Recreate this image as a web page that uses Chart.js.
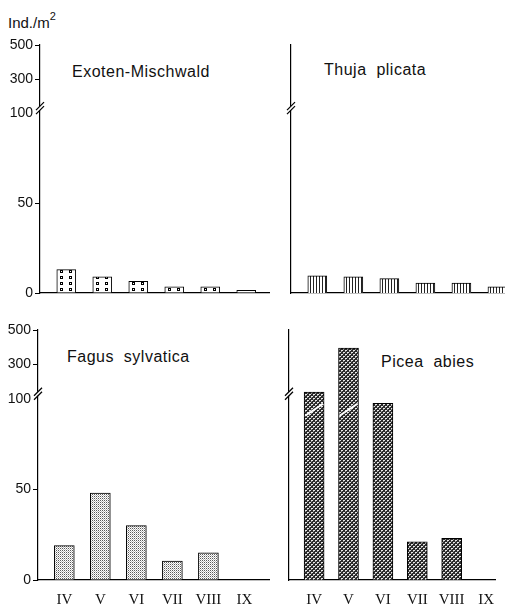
<!DOCTYPE html>
<html>
<head>
<meta charset="utf-8">
<script src="https://cdn.jsdelivr.net/npm/chart.js@4.4.1/dist/chart.umd.min.js"></script>
<style>
  html, body { margin: 0; padding: 0; background: #fff; }
  body { width: 505px; height: 606px; position: relative; overflow: hidden; }
  canvas { position: absolute; }
  .lbl { position: absolute; font-family: "Liberation Sans", Arial, sans-serif; color: #111; white-space: pre; }
  .title { font-size: 16px; line-height: 16px; letter-spacing: 0.5px; }
  .unit { font-size: 15px; line-height: 15px; }
  .unit sup { font-size: 11px; position: relative; top: -2px; }
</style>
</head>
<body>
<div class="lbl unit" style="left:8px; top:11px;">Ind./m<sup>2</sup></div>
<div class="lbl title" style="left:72px; top:64px;">Exoten-Mischwald</div>
<div class="lbl title" style="left:324px; top:62px;">Thuja  plicata</div>
<div class="lbl title" style="left:67px; top:349px;">Fagus  sylvatica</div>
<div class="lbl title" style="left:381px; top:354px;">Picea  abies</div>

<canvas id="tl" width="270" height="310" style="left:0; top:0;"></canvas>
<canvas id="tr" width="255" height="310" style="left:250px; top:0;"></canvas>
<canvas id="bl" width="270" height="306" style="left:0; top:300px;"></canvas>
<canvas id="br" width="255" height="306" style="left:250px; top:300px;"></canvas>

<script>
// Months of the sampling season (Roman numerals)
const months = ['IV', 'V', 'VI', 'VII', 'VIII', 'IX'];

// Individuals per m² for each stand
const exotenMischwald = [13, 9, 6.5, 3.5, 3.5, 1.5];
const thujaPlicata    = [9.5, 9, 8, 5.5, 5.5, 3.5];
const fagusSylvatica  = [19, 48, 30, 10.5, 15, null];
const piceaAbies      = [139, 395, 97.5, 21, 23, null];

// Y axis ticks (axis is broken above 100)
const yTicks = [0, 50, 100, 300, 500];
const BREAK_AT = 100;
const Y_TOP = 500;
const LOWER_SHARE = 0.725;   // share of the axis height used by 0..100

// Linear scale with a compressed upper segment above the break
class BrokenLinearScale extends Chart.LinearScale {
  static id = 'brokenLinear';
  static defaults = Chart.LinearScale.defaults;
  buildTicks() { return yTicks.map(v => ({ value: v })); }
  toDecimal(v) {
    if (v <= BREAK_AT) return (v / BREAK_AT) * LOWER_SHARE;
    return LOWER_SHARE + (v - BREAK_AT) / (Y_TOP - BREAK_AT) * (1 - LOWER_SHARE);
  }
  getPixelForValue(v) { return this.getPixelForDecimal(this.toDecimal(v)); }
  getValueForPixel(p) {
    const d = this.getDecimalForPixel(p);
    if (d <= LOWER_SHARE) return d / LOWER_SHARE * BREAK_AT;
    return BREAK_AT + (d - LOWER_SHARE) / (1 - LOWER_SHARE) * (Y_TOP - BREAK_AT);
  }
}
Chart.register(BrokenLinearScale);

// Fill patterns
function makePattern(w, h, paint) {
  const c = document.createElement('canvas');
  c.width = w; c.height = h;
  const g = c.getContext('2d');
  paint(g);
  return g.createPattern(c, 'repeat');
}

const dotPattern = makePattern(36, 6, g => {
  g.fillStyle = '#fff'; g.fillRect(0, 0, 36, 6);
  for (const cx of [25, 34]) {
    g.fillStyle = '#000'; g.fillRect(cx - 1, 0, 3, 3);
    g.fillStyle = '#fff'; g.fillRect(cx, 1, 1, 1);
  }
});
const stripePattern = makePattern(3, 1, g => {
  g.fillStyle = '#fff'; g.fillRect(0, 0, 3, 1);
  g.fillStyle = '#222'; g.fillRect(0, 0, 1, 1);
});
const stipplePattern = makePattern(2, 2, g => {
  g.fillStyle = '#fff'; g.fillRect(0, 0, 2, 2);
  g.fillStyle = '#5a5a5a'; g.fillRect(0, 0, 1, 1);
  g.fillStyle = '#bbb'; g.fillRect(1, 1, 1, 1);
});
const meshPattern = makePattern(4, 4, g => {
  g.fillStyle = '#2a2a2a'; g.fillRect(0, 0, 4, 4);
  g.fillStyle = '#e8e8e8';
  g.fillRect(1, 0, 2, 1);
  g.fillRect(3, 2, 1, 1); g.fillRect(0, 2, 1, 1);
  g.fillStyle = '#9a9a9a';
  g.fillRect(1, 1, 1, 1); g.fillRect(3, 3, 1, 1);
});

// Break marks on the y axis and through bars that pass the break
const breakPlugin = {
  id: 'axisBreak',
  afterDatasetsDraw(chart) {
    const { ctx } = chart;
    const y = chart.scales.y;
    const xAxis = y.left + y.width;
    const yb = y.getPixelForValue(BREAK_AT) - 5;
    ctx.save();
    ctx.strokeStyle = '#fff'; ctx.lineWidth = 3;
    ctx.beginPath(); ctx.moveTo(xAxis, yb - 2); ctx.lineTo(xAxis, yb + 2); ctx.stroke();
    ctx.strokeStyle = '#000'; ctx.lineWidth = 1.2;
    for (const d of [-2, 2]) {
      ctx.beginPath(); ctx.moveTo(xAxis - 4, yb + d + 4); ctx.lineTo(xAxis + 4, yb + d - 4); ctx.stroke();
    }
    // white cut through bars reaching above the break
    const meta = chart.getDatasetMeta(0);
    const yc = y.getPixelForValue(BREAK_AT) + 11;
    meta.data.forEach((bar, i) => {
      const v = meta._parsed[i] && meta._parsed[i].y;
      if (v != null && v > BREAK_AT) {
        const half = bar.width / 2;
        ctx.strokeStyle = '#fff'; ctx.lineWidth = 2;
        ctx.beginPath();
        ctx.moveTo(bar.x - half + 1, yc + 6);
        ctx.lineTo(bar.x + half - 1, yc - 6);
        ctx.stroke();
      }
    });
    ctx.restore();
  }
};

function panel(id, values, fill, opts) {
  new Chart(document.getElementById(id), {
    type: 'bar',
    data: {
      datasets: [{
        data: values.map((v, i) => ({ x: i, y: v })),
        backgroundColor: fill,
        borderColor: '#000',
        borderWidth: 1,
        barThickness: opts.barWidth
      }]
    },
    options: {
      responsive: false,
      animation: false,
      events: [],
      layout: { padding: { top: opts.top, right: 0, left: 0, bottom: 0 } },
      plugins: { legend: { display: false }, tooltip: { enabled: false } },
      scales: {
        x: {
          type: 'linear',
          offset: false,
          min: -0.73,
          max: opts.xMax,
          afterBuildTicks: s => { s.ticks = months.map((_, i) => ({ value: i })); },
          afterFit: s => { s.height = opts.xHeight; },
          grid: { display: false, drawTicks: false, offset: false },
          border: { display: true, color: '#000', width: 1.2 },
          ticks: {
            display: opts.showMonths,
            autoSkip: false,
            maxRotation: 0,
            padding: 11,
            color: '#111',
            font: { family: '"Liberation Serif", "Times New Roman", serif', size: 15 },
            callback: v => months[Math.round(v)] ?? ''
          }
        },
        y: {
          type: 'brokenLinear',
          min: 0,
          max: Y_TOP,
          afterFit: s => { s.width = opts.yWidth; },
          grid: {
            display: opts.showValues,
            drawOnChartArea: false,
            drawTicks: opts.showValues,
            tickLength: 5,
            tickColor: c => (c.tick && c.tick.value === BREAK_AT) ? 'rgba(0,0,0,0)' : '#000'
          },
          border: { display: true, color: '#000', width: 1.2 },
          ticks: {
            display: opts.showValues,
            padding: 2,
            color: '#111',
            font: { family: '"Liberation Sans", Arial, sans-serif', size: 14 },
            callback: v => String(v)
          }
        }
      }
    },
    plugins: [breakPlugin]
  });
}

panel('tl', exotenMischwald, dotPattern,
  { top: 45, xMax: 5.66, xHeight: 17, yWidth: 40, barWidth: 19, showValues: true, showMonths: false });
panel('tr', thujaPlicata, stripePattern,
  { top: 45, xMax: 5.21, xHeight: 17, yWidth: 41, barWidth: 19, showValues: false, showMonths: false });
panel('bl', fagusSylvatica, stipplePattern,
  { top: 30, xMax: 5.71, xHeight: 26, yWidth: 38, barWidth: 20, showValues: true, showMonths: true });
panel('br', piceaAbies, meshPattern,
  { top: 30, xMax: 5.27, xHeight: 26, yWidth: 39, barWidth: 20, showValues: false, showMonths: true });
</script>
</body>
</html>
